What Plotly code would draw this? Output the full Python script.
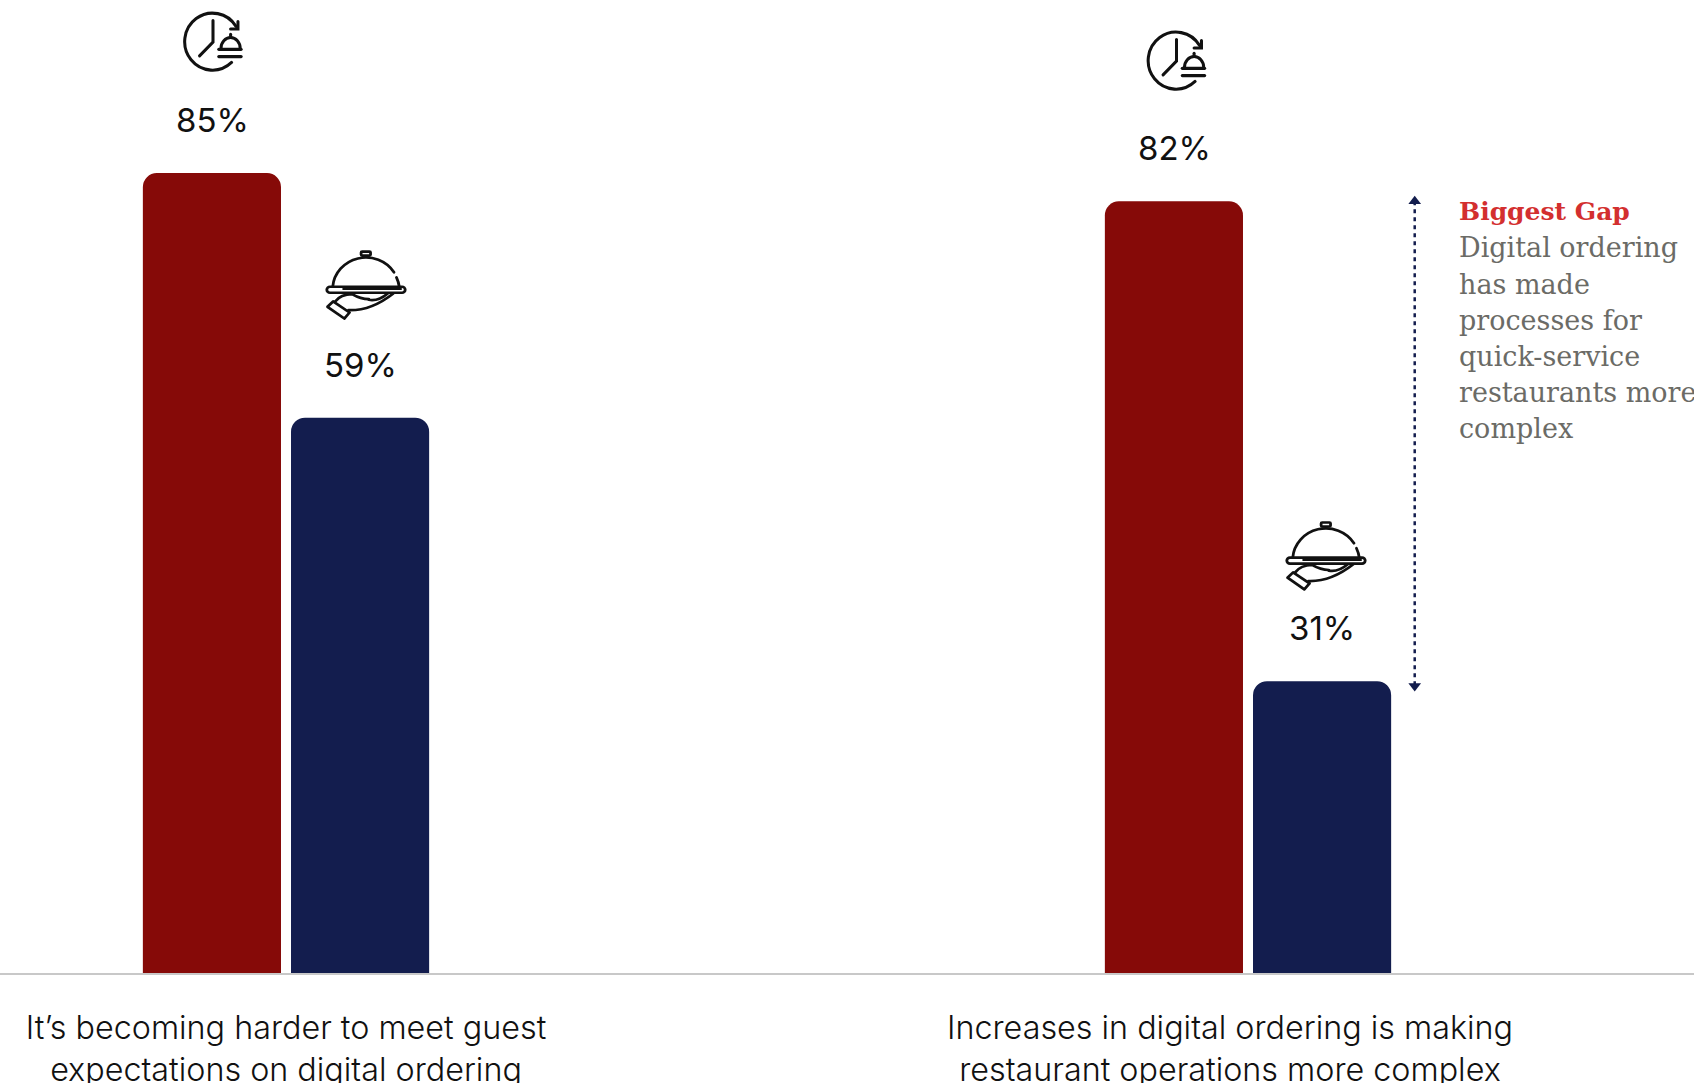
import base64
import plotly.graph_objects as go

# ---- data ----
group_pos = [0, 1]
series_names = ["Clock", "Server"]
red_values = [85, 82]
navy_values = [59, 31]
tick_positions = [0, 0.9813]
tick_labels = [
    "It’s becoming harder to meet guest<br>expectations on digital ordering",
    "Increases in digital ordering is making<br>restaurant operations more complex",
]
gap_x = 1.1733
gap_values = [82, 30.5]
note_title = "Biggest Gap"
note_lines = ["Digital ordering", "has made", "processes for", "quick-service", "restaurants more", "complex"]

# ---- layout constants (pixels) ----
W, H = 1694, 1083
BASE = 973.4
PX_PER_UNIT = 9.415
GROUP_PX = 962
X0 = 286
RED, NAVY = "#860a08", "#131d4e"
LABEL_FONT = "Inter"
NOTE_FONT = "DejaVu Serif"

CLOCK = """<svg xmlns='http://www.w3.org/2000/svg' viewBox='90 30 200 195'>
<g fill='none' stroke='#111' stroke-width='9.5' stroke-linecap='round'>
<path d='M 262 80 A 87 87 0 1 0 248 190'/>
<path d='M 268 65 V 88 H 245'/>
<path d='M 190 62 V 128 L 148 170'/>
<path d='M 215 147 A 30 33 0 0 1 275 147'/>
<path d='M 245 104 V 113'/>
<path d='M 208 150 H 278'/>
<path d='M 208 172 H 278'/>
</g></svg>"""

SERVER = """<svg xmlns='http://www.w3.org/2000/svg' viewBox='80 55 240 215'>
<g fill='none' stroke='#111' stroke-width='8' stroke-linecap='round' stroke-linejoin='round'>
<path d='M 105 168 A 95 95 0 0 1 280 125'/>
<path d='M 287 140 A 95 95 0 0 1 295 168'/>
<rect x='186' y='63' width='27' height='12' rx='3'/>
<rect x='88' y='168' width='224' height='18' rx='9'/>
<path d='M 135 175 H 300' stroke-width='6'/>
<path d='M 112 212 Q 128 190 160 190 Q 185 205 208 205'/>
<path d='M 208 207 Q 235 212 262 188'/>
<path d='M 150 238 Q 215 240 278 188'/>
<path d='M 90 228 L 106 212 L 153 245 L 138 263 Z'/>
</g></svg>"""


def uri(svg):
    return "data:image/svg+xml;base64," + base64.b64encode(svg.encode()).decode()


def icon(svg, cx, cy, w, h):
    return dict(
        source=uri(svg), xref="x", yref="y",
        x=(cx - X0) / GROUP_PX, y=(BASE - cy) / PX_PER_UNIT,
        sizex=w / GROUP_PX, sizey=h / PX_PER_UNIT,
        xanchor="center", yanchor="middle", sizing="stretch", layer="above",
    )


fig = go.Figure()
fig.add_bar(x=group_pos, y=red_values, name=series_names[0], marker=dict(color=RED, line_width=0))
fig.add_bar(x=group_pos, y=navy_values, name=series_names[1], marker=dict(color=NAVY, line_width=0))
fig.add_scatter(
    x=[gap_x, gap_x], y=gap_values, mode="lines+markers",
    line=dict(color=NAVY, width=2.5, dash="4px,4px"),
    marker=dict(symbol=["triangle-up", "triangle-down"], size=11, color=NAVY),
)

annotations = []
for i, (a, b) in enumerate(zip(red_values, navy_values)):
    for v, shift in ((a, -74), (b, 74)):
        annotations.append(dict(
            x=group_pos[i], y=v, xref="x", yref="y", text=f"{v}%", showarrow=False,
            xshift=shift, yshift=53, xanchor="center", yanchor="middle",
            font=dict(family=LABEL_FONT, size=33, color="#111111"),
        ))

note_x = 1456.6 / W
annotations.append(dict(
    x=note_x, y=(BASE - 212) / BASE, xref="paper", yref="paper", text=f"<b>{note_title}</b>",
    showarrow=False, xanchor="left", yanchor="middle",
    font=dict(family=NOTE_FONT, size=25, color="#d32f2f"),
))
for k, line in enumerate(note_lines):
    annotations.append(dict(
        x=note_x, y=(BASE - (248 + k * 36.2)) / BASE, xref="paper", yref="paper", text=line,
        showarrow=False, xanchor="left", yanchor="middle",
        font=dict(family=NOTE_FONT, size=27, color="#6b6b66"),
    ))

fig.update_layout(
    width=W, height=H, showlegend=False, barmode="group",
    bargap=0.692, bargroupgap=0.0676, barcornerradius=14,
    margin=dict(l=0, r=0, t=0, b=H - BASE, pad=0),
    paper_bgcolor="white", plot_bgcolor="white",
    xaxis=dict(
        range=[-X0 / GROUP_PX, (W - X0) / GROUP_PX], tickmode="array",
        tickvals=tick_positions, ticktext=tick_labels, ticks="", showgrid=False,
        zeroline=False, showline=True, linecolor="#c8c8c8", linewidth=2,
        ticklabelstandoff=25, automargin=False,
        tickfont=dict(family=LABEL_FONT, size=32.3, color="#111111", weight=300),
    ),
    yaxis=dict(range=[0, BASE / PX_PER_UNIT], visible=False, automargin=False),
    annotations=annotations,
    images=[
        icon(CLOCK, 213, 42, 64, 64),
        icon(CLOCK, 1176.5, 61, 64, 64),
        icon(SERVER, 366, 285, 84, 72),
        icon(SERVER, 1326, 556, 84, 72),
    ],
)

fig.write_html("out.html", post_script="document.body.style.margin='0';", config={"displayModeBar": False})
